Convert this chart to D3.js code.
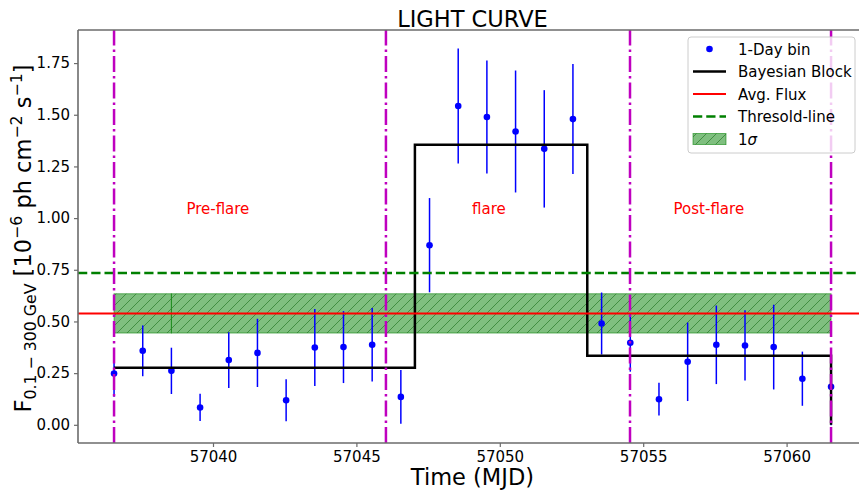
<!DOCTYPE html>
<html>
<head>
<meta charset="utf-8">
<script src="https://cdn.jsdelivr.net/npm/d3@7"></script>
<style>
  html, body { margin: 0; padding: 0; background: #fff; }
  svg { display: block; font-family: "DejaVu Sans", sans-serif; }
</style>
</head>
<body>
<svg id="chart" width="859" height="492"></svg>
<script>
// 1-day binned light curve (MJD, flux in 1e-6 ph cm^-2 s^-1, 1-sigma error)
const mjd = [57036.55, 57037.55, 57038.55, 57039.55, 57040.55, 57041.55, 57042.55,
             57043.55, 57044.55, 57045.55, 57046.55, 57047.55, 57048.55, 57049.55,
             57050.55, 57051.55, 57052.55, 57053.55, 57054.55, 57055.55, 57056.55,
             57057.55, 57058.55, 57059.55, 57060.55, 57061.55];
const flux = [0.248, 0.358, 0.261, 0.084, 0.313, 0.348, 0.119, 0.374, 0.376, 0.387,
              0.135, 0.869, 1.542, 1.489, 1.419, 1.335, 1.479, 0.490, 0.397, 0.124,
              0.305, 0.387, 0.384, 0.376, 0.223, 0.184];
const fluxErr = [0.112, 0.123, 0.112, 0.066, 0.135, 0.165, 0.102, 0.186, 0.174, 0.178,
                 0.130, 0.228, 0.278, 0.273, 0.295, 0.284, 0.266, 0.150, 0.140, 0.079,
                 0.190, 0.190, 0.170, 0.205, 0.131, 0.186];

// Bayesian blocks: edges and block levels (final level closes the step at zero)
const blockEdges = [57036.55, 57047.04, 57053.05, 57061.55];
const blockLevels = [0.276, 1.355, 0.334, 0.0];

// Average flux, its 1-sigma band, and the flare threshold
const avgFlux = 0.539;
const bandLow = 0.444;
const bandHigh = 0.634;
const bandEdges = [57036.55, 57038.55, 57061.55];
const thresholdFlux = 0.734;

// Phase boundaries and phase names
const phaseBounds = [57036.55, 57046.03, 57054.54, 57061.55];
const phaseNames = ["Pre-flare", "flare", "Post-flare"];
const phaseLabelX = [57040.17, 57049.62, 57057.29];
const phaseLabelY = 1.02;

// Axis ticks
const xTicks = [57040, 57045, 57050, 57055, 57060];
const yTicks = [0.00, 0.25, 0.50, 0.75, 1.00, 1.25, 1.50, 1.75];

const legendLabels = ["1-Day bin", "Bayesian Block", "Avg. Flux", "Thresold-line", "1"];

const svg = d3.select("#chart");
const plot = { left: 78, right: 866.9, top: 30, bottom: 443 };

const x = d3.scaleLinear().domain([57035.293, 57062.80]).range([plot.left, plot.right]);
const y = d3.scaleLinear().domain([-0.088, 1.91]).range([plot.bottom, plot.top]);

// Hatch pattern for the 1-sigma band
const defs = svg.append("defs");
const pat = defs.append("pattern")
  .attr("id", "hatch")
  .attr("patternUnits", "userSpaceOnUse")
  .attr("width", 10).attr("height", 10);
pat.append("path")
  .attr("d", "M-2,2 L2,-2 M0,10 L10,0 M8,12 L12,8")
  .attr("stroke", "#2a7a2a").attr("stroke-opacity", 0.8)
  .attr("stroke-width", 0.9).attr("fill", "none");

const clip = defs.append("clipPath").attr("id", "plotClip");
clip.append("rect")
  .attr("x", plot.left).attr("y", plot.top)
  .attr("width", plot.right - plot.left).attr("height", plot.bottom - plot.top);

const g = svg.append("g").attr("clip-path", "url(#plotClip)");

// 1-sigma band
const bandSegs = d3.pairs(bandEdges);
g.selectAll("rect.band").data(bandSegs).join("rect")
  .attr("class", "band")
  .attr("x", d => x(d[0])).attr("width", d => x(d[1]) - x(d[0]))
  .attr("y", y(bandHigh)).attr("height", y(bandLow) - y(bandHigh))
  .attr("fill", "#008000").attr("fill-opacity", 0.5)
  .attr("stroke", "#008000").attr("stroke-opacity", 0.55).attr("stroke-width", 1);
g.selectAll("rect.bandHatch").data(bandSegs).join("rect")
  .attr("class", "bandHatch")
  .attr("x", d => x(d[0])).attr("width", d => x(d[1]) - x(d[0]))
  .attr("y", y(bandHigh)).attr("height", y(bandLow) - y(bandHigh))
  .attr("fill", "url(#hatch)");

// Error bars and points
g.selectAll("line.err").data(mjd).join("line")
  .attr("class", "err")
  .attr("x1", d => x(d)).attr("x2", d => x(d))
  .attr("y1", (d, i) => y(flux[i] - fluxErr[i]))
  .attr("y2", (d, i) => y(flux[i] + fluxErr[i]))
  .attr("stroke", "#0000ff").attr("stroke-width", 1.5);
g.selectAll("circle.pt").data(mjd).join("circle")
  .attr("class", "pt")
  .attr("cx", d => x(d)).attr("cy", (d, i) => y(flux[i]))
  .attr("r", 3.3).attr("fill", "#0000ff");

// Bayesian block step curve
const stepPts = [];
blockLevels.forEach((lv, i) => {
  if (i < blockEdges.length - 1) {
    stepPts.push([blockEdges[i], lv], [blockEdges[i + 1], lv]);
  } else {
    stepPts.push([blockEdges[blockEdges.length - 1], lv]);
  }
});
g.append("path")
  .attr("d", d3.line().x(d => x(d[0])).y(d => y(d[1]))(stepPts))
  .attr("fill", "none").attr("stroke", "#000").attr("stroke-width", 2.5)
  .attr("stroke-linejoin", "miter");

// Average flux and threshold lines
g.append("line")
  .attr("x1", plot.left).attr("x2", plot.right)
  .attr("y1", y(avgFlux)).attr("y2", y(avgFlux))
  .attr("stroke", "#ff0000").attr("stroke-width", 2);
g.append("line")
  .attr("x1", plot.left).attr("x2", plot.right)
  .attr("y1", y(thresholdFlux)).attr("y2", y(thresholdFlux))
  .attr("stroke", "#008000").attr("stroke-width", 2.5)
  .attr("stroke-dasharray", "9.25,4");

// Phase boundaries
g.selectAll("line.phase").data(phaseBounds).join("line")
  .attr("class", "phase")
  .attr("x1", d => x(d)).attr("x2", d => x(d))
  .attr("y1", plot.bottom).attr("y2", plot.top)
  .attr("stroke", "#bf00bf").attr("stroke-width", 2.5)
  .attr("stroke-dasharray", "16,4,2.5,4");

// Phase labels
g.selectAll("text.phaseLbl").data(phaseNames).join("text")
  .attr("class", "phaseLbl")
  .attr("x", (d, i) => x(phaseLabelX[i]))
  .attr("y", y(phaseLabelY))
  .attr("text-anchor", "middle")
  .attr("font-size", 15).attr("fill", "#ff0000")
  .text(d => d);

// Spines (right spine lies outside the visible area)
const spineColor = "#6b6b6b";
svg.append("line").attr("x1", plot.left).attr("x2", plot.left)
  .attr("y1", plot.top).attr("y2", plot.bottom)
  .attr("stroke", spineColor).attr("stroke-width", 1.6);
svg.append("line").attr("x1", plot.left).attr("x2", 859)
  .attr("y1", plot.bottom).attr("y2", plot.bottom)
  .attr("stroke", spineColor).attr("stroke-width", 1.6);
svg.append("line").attr("x1", plot.left).attr("x2", 859)
  .attr("y1", plot.top).attr("y2", plot.top)
  .attr("stroke", spineColor).attr("stroke-width", 1.6);

// Axes
const xAxis = d3.axisBottom(x).tickValues(xTicks).tickFormat(d3.format("d"))
  .tickSize(4).tickPadding(4);
const yAxis = d3.axisLeft(y).tickValues(yTicks).tickFormat(d3.format(".2f"))
  .tickSize(4).tickPadding(4);

const gx = svg.append("g").attr("transform", `translate(0,${plot.bottom})`).call(xAxis);
const gy = svg.append("g").attr("transform", `translate(${plot.left},0)`).call(yAxis);
[gx, gy].forEach(ax => {
  ax.select(".domain").remove();
  ax.selectAll(".tick line").attr("stroke", spineColor).attr("stroke-width", 1.2);
  ax.selectAll(".tick text").attr("font-size", 15).attr("fill", "#000")
    .attr("font-family", "DejaVu Sans");
});

// Title and axis labels
const midX = (plot.left + plot.right) / 2;
svg.append("text")
  .attr("x", midX).attr("y", 27)
  .attr("text-anchor", "middle").attr("font-size", 22.5).attr("fill", "#000")
  .text("LIGHT CURVE");

svg.append("text")
  .attr("x", midX).attr("y", 485)
  .attr("text-anchor", "middle").attr("font-size", 22.5).attr("fill", "#000")
  .text("Time (MJD)");

const yl = svg.append("text")
  .attr("transform", `translate(31,${(plot.top + plot.bottom) / 2 + 2}) rotate(-90)`)
  .attr("text-anchor", "middle").attr("font-size", 22.5).attr("fill", "#000");
yl.append("tspan").text("F");
yl.append("tspan").attr("font-size", 15.75).attr("dy", 5).text("0.1 \u2212 300 GeV");
yl.append("tspan").attr("dy", -5).text(" [10");
yl.append("tspan").attr("font-size", 15.75).attr("dy", -9).text("\u22126");
yl.append("tspan").attr("dy", 9).text(" ph cm");
yl.append("tspan").attr("font-size", 15.75).attr("dy", -9).text("\u22122");
yl.append("tspan").attr("dy", 9).text(" s");
yl.append("tspan").attr("font-size", 15.75).attr("dy", -9).text("\u22121");
yl.append("tspan").attr("dy", 9).text("]");

// Legend
const lg = svg.append("g");
lg.append("rect")
  .attr("x", 688).attr("y", 37).attr("width", 167).attr("height", 116)
  .attr("rx", 3).attr("fill", "#fff").attr("fill-opacity", 0.8)
  .attr("stroke", "#cccccc").attr("stroke-width", 1);
const rowY = [49, 71.5, 94, 116.5, 139];
const hx0 = 693, hx1 = 726, tx = 738;
lg.append("circle").attr("cx", (hx0 + hx1) / 2).attr("cy", rowY[0]).attr("r", 3.3).attr("fill", "#0000ff");
lg.append("line").attr("x1", hx0).attr("x2", hx1).attr("y1", rowY[1]).attr("y2", rowY[1])
  .attr("stroke", "#000").attr("stroke-width", 2.5);
lg.append("line").attr("x1", hx0).attr("x2", hx1).attr("y1", rowY[2]).attr("y2", rowY[2])
  .attr("stroke", "#ff0000").attr("stroke-width", 2);
lg.append("line").attr("x1", hx0).attr("x2", hx1).attr("y1", rowY[3]).attr("y2", rowY[3])
  .attr("stroke", "#008000").attr("stroke-width", 2.5).attr("stroke-dasharray", "9.25,4");
lg.append("rect").attr("x", hx0).attr("y", rowY[4] - 5.5).attr("width", hx1 - hx0).attr("height", 11)
  .attr("fill", "#008000").attr("fill-opacity", 0.5)
  .attr("stroke", "#008000").attr("stroke-opacity", 0.55);
lg.append("rect").attr("x", hx0).attr("y", rowY[4] - 5.5).attr("width", hx1 - hx0).attr("height", 11)
  .attr("fill", "url(#hatch)");
const lgText = lg.selectAll("text.lgt").data(legendLabels).join("text")
  .attr("class", "lgt")
  .attr("x", tx).attr("y", (d, i) => rowY[i] + 5.5)
  .attr("font-size", 15).attr("fill", "#000")
  .text(d => d);
// italic sigma after the "1" of the last entry
lgText.filter((d, i) => i === legendLabels.length - 1)
  .append("tspan").attr("font-style", "italic").text("\u03C3");
</script>
</body>
</html>
